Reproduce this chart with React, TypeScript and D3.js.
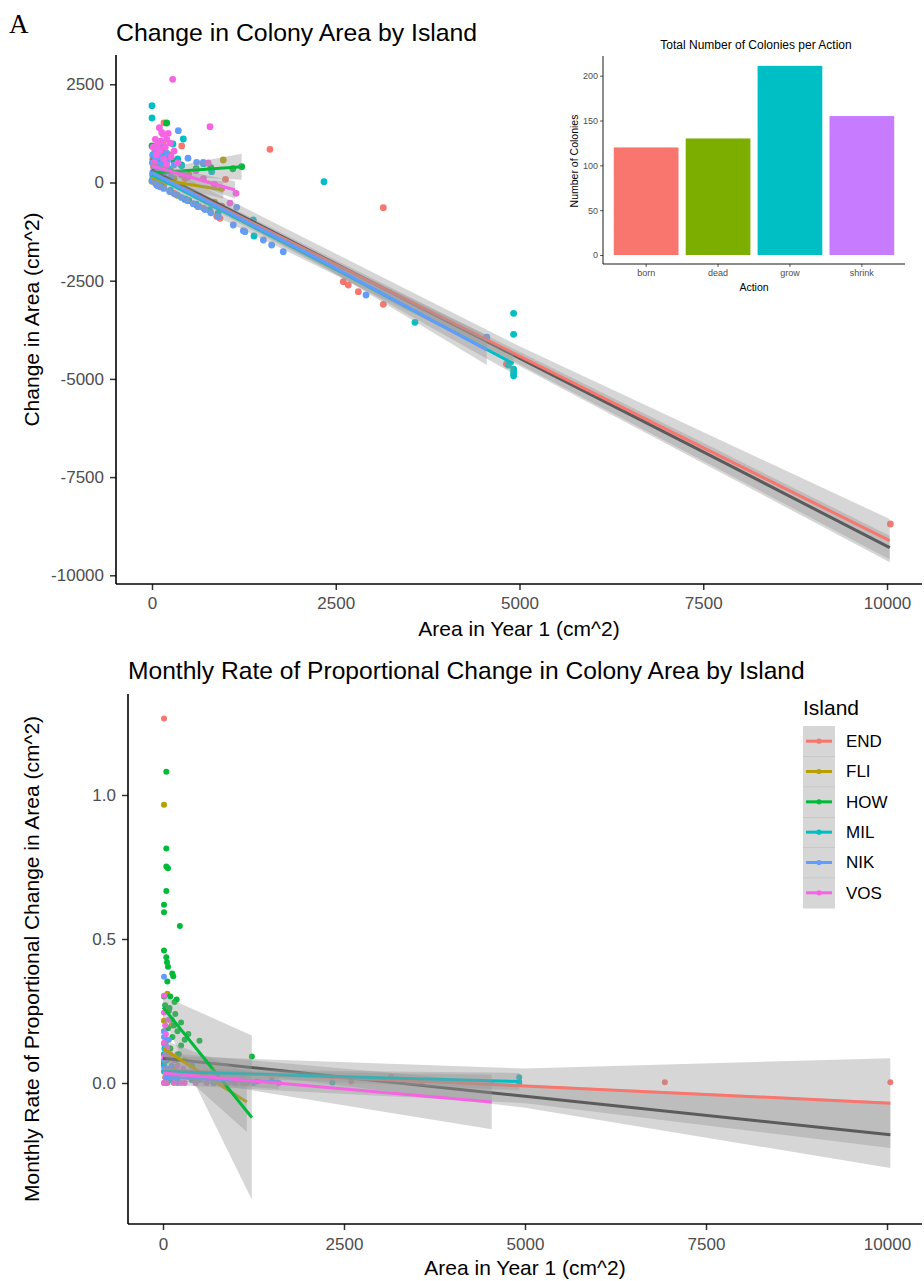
import { useRef, useEffect } from 'react';
import * as d3 from 'd3';

type Pt = [number, number];
// x, fitted value, half width of the confidence band
type Fit = [number, number, number][];

const FONT = '"Liberation Sans", Arial, sans-serif';

const ISLANDS = ['END', 'FLI', 'HOW', 'MIL', 'NIK', 'VOS'];
const ISLAND_COLORS = ['#F8766D', '#B79F00', '#00BA38', '#00BFC4', '#619CFF', '#F564E3'];

const AREA_TICKS = [0, 2500, 5000, 7500, 10000];
const CHANGE_TICKS = [2500, 0, -2500, -5000, -7500, -10000];
const RATE_TICKS = [0, 0.5, 1.0];

// ---- panel A: change in area vs area in year 1
const changeEND: Pt[] = [
  [20, 400], [50, 650], [80, 300], [120, 200], [150, 1000], [163, 1520], [404, 930], [1605, 845],
  [3147, -641], [30, 150], [200, 500], [450, 100], [60, -60], [300, -280], [700, -650], [880, -860],
  [925, -912], [950, -600], [1000, 80], [2603, -2525], [2671, -2609], [2807, -2780], [3147, -3101],
  [4822, -4620], [10046, -8694], [10, 600], [40, 800], [100, 450], [180, 350], [250, 700],
];
const changeFLI: Pt[] = [
  [0, 30], [20, 50], [40, 0], [80, -50], [150, -120], [250, -230], [350, -330], [450, -430],
  [600, -560], [626, -616], [30, 200], [100, 150], [200, 300], [300, 100], [60, 350], [500, 200],
  [850, -500], [970, 573], [10, 100], [50, 120], [120, 50], [180, 0], [70, 500],
];
const changeHOW: Pt[] = [
  [200, 1515], [0, 930], [10, 200], [30, 400], [50, 700], [80, 250], [100, 600], [120, -100],
  [150, 800], [250, 300], [300, 550], [400, 450], [500, -460], [600, 350], [800, 380], [1100, 350],
  [1220, 402], [20, 550], [60, 450], [140, 350], [200, 650], [90, 850],
];
const changeMIL: Pt[] = [
  [0, 1955], [0, 1642], [50, 300], [100, 500], [150, 250], [200, 700], [250, -200], [285, 980],
  [350, 600], [404, 428], [426, 1107], [450, -420], [600, -560], [700, 480], [782, -700], [812, 275],
  [900, -780], [1379, -955], [1388, -1362], [2340, 20], [3578, -3560], [4850, -4650], [4920, -3330],
  [4920, -3866], [4920, -4750], [4920, -4800], [4920, -4860], [4920, -4920],
  [10, 700], [30, 900], [80, 600], [120, 750], [170, 450], [220, 350],
];
const changeNIK: Pt[] = [
  [0, 50], [10, 250], [20, 100], [30, 400], [40, 0], [50, 600], [60, 150], [70, -70], [80, -80],
  [90, 450], [100, 300], [110, -110], [132, 911], [150, 500], [160, -150], [200, 750], [240, -230],
  [300, 450], [320, -300], [358, 1319], [400, -380], [420, 200], [480, -460], [490, 620], [560, -540],
  [608, 514], [640, -610], [698, 514], [720, -690], [800, -770], [898, -870], [1106, -1082],
  [1152, -632], [1243, -1226], [1264, -1253], [1515, -1464], [1628, -1591], [1786, -1761],
  [2912, -2864], [4555, -3940], [5, 500], [15, 700], [25, 300], [45, 200], [65, 800], [85, 100],
  [105, 650], [125, 400], [175, 250], [210, 550], [260, 150],
];
const changeVOS: Pt[] = [
  [281, 2627], [100, 1395], [132, 1275], [150, 1230], [789, 1420], [180, 900], [120, 1050],
  [200, 1100], [220, 1250], [250, 1000], [90, 850], [60, 700], [300, 800], [30, 500], [350, 500],
  [400, 200], [500, 150], [600, 300], [700, 100], [764, 496], [850, -50], [950, -150], [1061, -523],
  [1143, -275], [15, 900], [45, 1100], [75, 1000], [110, 800], [160, 600], [200, 450], [260, 650],
];

const changeFitAll: Fit = [[0, 318, 50], [2500, -2073, 100], [5000, -4470, 160], [7500, -6857, 230], [10037, -9296, 300]];
const changeFitEND: Fit = [[0, 246, 300], [5000, -4420, 250], [10037, -9118, 550]];
const changeFitFLI: Fit = [[0, 107, 60], [970, -191, 220]];
const changeFitHOW: Fit = [[0, 240, 70], [1220, 402, 330]];
const changeFitMIL: Fit = [[0, 200, 60], [2500, -2210, 120], [4920, -4612, 260]];
const changeFitNIK: Fit = [[0, 250, 50], [2300, -1980, 120], [4555, -4264, 380]];
const changeFitVOS: Fit = [[0, 420, 60], [1130, -191, 220]];

// ---- panel B: monthly rate of proportional change
const rateEND: Pt[] = [
  [14, 1.266], [14, 0.135], [30, 0.02], [50, 0.1], [60, 0.0], [100, 0.05], [200, 0.02], [400, 0.01],
  [700, 0.015], [1500, 0.01], [2600, 0.005], [3150, 0.022], [6932, 0.003], [10046, 0.003],
  [20, 0.07], [80, 0.04], [150, 0.03],
];
const rateFLI: Pt[] = [
  [14, 0.966], [14, 0.216], [14, 0.18], [40, 0.25], [60, 0.31], [100, 0.12], [150, 0.05], [200, 0.1],
  [300, 0.08], [500, 0.03], [800, 0.01], [970, 0.005], [1158, 0.0], [30, 0.14], [80, 0.09], [120, 0.2],
];
const rateHOW: Pt[] = [
  [46, 1.081], [46, 0.814], [46, 0.752], [69, 0.746], [46, 0.667], [14, 0.619], [14, 0.593],
  [233, 0.545], [14, 0.46], [46, 0.437], [55, 0.419], [69, 0.404], [128, 0.38], [142, 0.371],
  [60, 0.352], [14, 0.3], [100, 0.3], [188, 0.29], [160, 0.281], [30, 0.27], [90, 0.26], [80, 0.25],
  [170, 0.24], [120, 0.22], [250, 0.21], [150, 0.2], [70, 0.19], [200, 0.18], [350, 0.17],
  [130, 0.16], [300, 0.15], [60, 0.15], [250, 0.13], [100, 0.12], [220, 0.1], [14, 0.1],
  [180, 0.08], [14, 0.07], [400, 0.06], [504, 0.147], [1227, 0.092],
];
const rateMIL: Pt[] = [
  [14, 0.06], [14, 0.04], [30, 0.0], [50, 0.02], [100, 0.01], [200, 0.005], [400, 0.01], [700, 0.0],
  [1000, 0.005], [1300, 0.005], [2340, 0.002], [3578, 0.0], [4920, 0.0], [4920, 0.005], [4920, 0.02],
  [20, 0.12], [60, 0.08], [120, 0.03],
];
const rateNIK: Pt[] = [
  [14, 0.369], [14, 0.18], [14, 0.16], [14, 0.08], [14, 0.0], [30, 0.1], [60, 0.05], [80, 0.15],
  [100, 0.02], [200, 0.0], [358, 0.03], [500, 0.01], [700, 0.0], [900, 0.0], [1100, 0.0],
  [1250, 0.0], [1600, 0.0], [20, 0.05], [40, 0.13], [120, 0.06], [170, 0.02],
];
const rateVOS: Pt[] = [
  [14, 0.303], [14, 0.245], [14, 0.14], [14, 0.0], [30, 0.2], [50, 0.0], [60, 0.12], [100, 0.1],
  [100, 0.04], [150, 0.08], [150, 0.0], [200, 0.06], [281, 0.05], [300, 0.0], [450, 0.0], [600, 0.0],
  [780, 0.01], [1000, 0.0], [1143, 0.0], [4540, 0.0], [20, 0.09], [40, 0.17], [80, 0.22],
  [120, 0.03], [180, 0.02], [250, 0.0],
];

const rateFitAll: Fit = [[0, 0.086, 0.02], [5000, -0.046, 0.04], [10046, -0.18, 0.115]];
const rateFitEND: Fit = [[0, 0.045, 0.05], [5000, -0.01, 0.06], [10046, -0.07, 0.156]];
const rateFitFLI: Fit = [[0, 0.12, 0.03], [1158, -0.066, 0.104]];
const rateFitHOW: Fit = [[0, 0.263, 0.04], [1227, -0.12, 0.285]];
const rateFitMIL: Fit = [[0, 0.04, 0.012], [2500, 0.022, 0.02], [4920, 0.005, 0.03]];
const rateFitNIK: Fit = [[0, 0.02, 0.01], [1600, 0.004, 0.025]];
const rateFitVOS: Fit = [[0, 0.035, 0.01], [4540, -0.066, 0.095]];

// ---- inset bar chart
const ACTIONS = ['born', 'dead', 'grow', 'shrink'];
const ACTION_COUNTS = [120, 130, 211, 155];
const ACTION_COLORS = ['#F8766D', '#7CAE00', '#00BFC4', '#C77CFF'];
const COUNT_TICKS = [0, 50, 100, 150, 200];

type Sel = d3.Selection<SVGGElement, unknown, null, undefined>;

interface PanelOpts {
  x: d3.ScaleLinear<number, number>;
  y: d3.ScaleLinear<number, number>;
  left: number; right: number; top: number; bottom: number;
  yTicks: number[];
  yFormat: (d: number) => string;
  points: Pt[][];
  fits: Fit[];
  fitAll: Fit;
  r: number;
  title: string; titleY: number; titleSize: number;
  xTitle: string; xTitleY: number;
  yTitle: string;
  xPad: number;
}

function drawPanel(g: Sel, o: PanelOpts) {
  // points
  o.points.forEach((pts, i) => {
    g.append('g').selectAll('circle').data(pts).join('circle')
      .attr('cx', d => o.x(d[0]))
      .attr('cy', d => o.y(d[1]))
      .attr('r', o.r)
      .attr('fill', ISLAND_COLORS[i]);
  });

  // smooths: band then line
  const band = d3.area<[number, number, number]>()
    .x(d => o.x(d[0]))
    .y0(d => o.y(d[1] - d[2]))
    .y1(d => o.y(d[1] + d[2]));
  const line = d3.line<[number, number, number]>()
    .x(d => o.x(d[0]))
    .y(d => o.y(d[1]));
  const smooth = (fit: Fit, color: string) => {
    g.append('path').datum(fit).attr('d', band).attr('fill', '#999999').attr('fill-opacity', 0.4);
    g.append('path').datum(fit).attr('d', line)
      .attr('fill', 'none').attr('stroke', color).attr('stroke-width', 3);
  };
  smooth(o.fitAll, '#333333');
  o.fits.forEach((f, i) => smooth(f, ISLAND_COLORS[i]));

  // axes
  const yAxis = d3.axisLeft(o.y).tickValues(o.yTicks).tickSize(6).tickPadding(6)
    .tickFormat(d => o.yFormat(d as number));
  const ya = g.append('g').attr('transform', `translate(${o.left},0)`).call(yAxis);
  ya.select('.domain').remove();

  const xAxis = d3.axisBottom(o.x).tickValues(AREA_TICKS).tickSize(6).tickPadding(o.xPad)
    .tickFormat(d => String(d));
  const xa = g.append('g').attr('transform', `translate(0,${o.bottom})`).call(xAxis);
  xa.select('.domain').remove();

  [ya, xa].forEach(a => {
    a.selectAll('line').attr('stroke', '#333').attr('stroke-width', 1.5);
    a.selectAll('text').attr('fill', '#4d4d4d').attr('font-size', 17).attr('font-family', FONT);
  });

  g.append('line').attr('x1', o.left).attr('x2', o.left).attr('y1', o.top).attr('y2', o.bottom)
    .attr('stroke', '#000').attr('stroke-width', 1.6);
  g.append('line').attr('x1', o.left).attr('x2', o.right).attr('y1', o.bottom).attr('y2', o.bottom)
    .attr('stroke', '#000').attr('stroke-width', 1.6);

  // titles
  g.append('text').attr('x', o.left).attr('y', o.titleY)
    .attr('font-family', FONT).attr('font-size', o.titleSize).attr('fill', '#000').text(o.title);
  g.append('text').attr('x', (o.left + o.right) / 2).attr('y', o.xTitleY).attr('text-anchor', 'middle')
    .attr('font-family', FONT).attr('font-size', 21).attr('fill', '#000').text(o.xTitle);
  g.append('text').attr('transform', `translate(39,${(o.top + o.bottom) / 2}) rotate(-90)`)
    .attr('text-anchor', 'middle')
    .attr('font-family', FONT).attr('font-size', 21).attr('fill', '#000').text(o.yTitle);
}

export default function App() {
  const svgRef = useRef<SVGSVGElement>(null);

  useEffect(() => {
    if (!svgRef.current) return;
    const svg = d3.select(svgRef.current);
    svg.selectAll('*').remove();

    svg.append('text').attr('x', 9).attr('y', 33)
      .attr('font-family', '"Liberation Serif", "Times New Roman", serif')
      .attr('font-size', 27).attr('fill', '#000').text('A');

    // Panel A
    const xA = d3.scaleLinear().domain([0, 10000]).range([152, 887]);
    const yA = d3.scaleLinear().domain([0, 2500]).range([182.5, 84.3]);
    drawPanel(svg.append('g') as unknown as Sel, {
      x: xA, y: yA, left: 116, right: 922, top: 55, bottom: 584,
      yTicks: CHANGE_TICKS, yFormat: d => String(d),
      points: [changeEND, changeFLI, changeHOW, changeMIL, changeNIK, changeVOS],
      fits: [changeFitEND, changeFitFLI, changeFitHOW, changeFitMIL, changeFitNIK, changeFitVOS],
      fitAll: changeFitAll, r: 3.4,
      title: 'Change in Colony Area by Island', titleY: 41, titleSize: 24.8,
      xTitle: 'Area in Year 1 (cm^2)', xTitleY: 636,
      yTitle: 'Change in Area (cm^2)', xPad: 7,
    });

    // Inset bar chart
    const inset = svg.append('g');
    inset.append('rect').attr('x', 560).attr('y', 30).attr('width', 364).attr('height', 268).attr('fill', '#fff');
    const bx = d3.scaleBand<string>().domain(ACTIONS).range([603, 905]).paddingInner(0.1).paddingOuter(0.15);
    const by = d3.scaleLinear().domain([0, 200]).range([255, 75.7]);
    inset.selectAll('rect.bar').data(ACTIONS).join('rect')
      .attr('class', 'bar')
      .attr('x', d => bx(d)!)
      .attr('width', bx.bandwidth())
      .attr('y', (_, i) => by(ACTION_COUNTS[i]))
      .attr('height', (_, i) => by(0) - by(ACTION_COUNTS[i]))
      .attr('fill', (_, i) => ACTION_COLORS[i]);
    const iya = inset.append('g').attr('transform', 'translate(603,0)')
      .call(d3.axisLeft(by).tickValues(COUNT_TICKS).tickSize(3).tickPadding(2).tickFormat(d => String(d)));
    iya.select('.domain').remove();
    const ixa = inset.append('g').attr('transform', 'translate(0,264)')
      .call(d3.axisBottom(bx).tickSize(3).tickPadding(3));
    ixa.select('.domain').remove();
    [iya, ixa].forEach(a => {
      a.selectAll('line').attr('stroke', '#333').attr('stroke-width', 0.8);
      a.selectAll('text').attr('fill', '#4d4d4d').attr('font-size', 9).attr('font-family', FONT);
    });
    inset.append('line').attr('x1', 603).attr('x2', 603).attr('y1', 56).attr('y2', 264)
      .attr('stroke', '#000').attr('stroke-width', 0.9);
    inset.append('line').attr('x1', 603).attr('x2', 905).attr('y1', 264).attr('y2', 264)
      .attr('stroke', '#000').attr('stroke-width', 0.9);
    inset.append('text').attr('x', 756).attr('y', 49).attr('text-anchor', 'middle')
      .attr('font-family', FONT).attr('font-size', 12).attr('fill', '#000')
      .text('Total Number of Colonies per Action');
    inset.append('text').attr('x', 754).attr('y', 291).attr('text-anchor', 'middle')
      .attr('font-family', FONT).attr('font-size', 10.5).attr('fill', '#000').text('Action');
    inset.append('text').attr('transform', 'translate(578,161) rotate(-90)').attr('text-anchor', 'middle')
      .attr('font-family', FONT).attr('font-size', 10.5).attr('fill', '#000').text('Number of Colonies');

    // Panel B
    const xB = d3.scaleLinear().domain([0, 10000]).range([163, 887]);
    const yB = d3.scaleLinear().domain([0, 1]).range([1083, 795]);
    drawPanel(svg.append('g') as unknown as Sel, {
      x: xB, y: yB, left: 128, right: 922, top: 694, bottom: 1224,
      yTicks: RATE_TICKS, yFormat: d => d.toFixed(1),
      points: [rateEND, rateFLI, rateHOW, rateMIL, rateNIK, rateVOS],
      fits: [rateFitEND, rateFitFLI, rateFitHOW, rateFitMIL, rateFitNIK, rateFitVOS],
      fitAll: rateFitAll, r: 3,
      title: 'Monthly Rate of Proportional Change in Colony Area by Island', titleY: 679, titleSize: 24.6,
      xTitle: 'Area in Year 1 (cm^2)', xTitleY: 1275,
      yTitle: 'Monthly Rate of Proportional Change in Area (cm^2)', xPad: 8,
    });

    // Legend
    const legend = svg.append('g');
    legend.append('text').attr('x', 803).attr('y', 715)
      .attr('font-family', FONT).attr('font-size', 21).attr('fill', '#000').text('Island');
    const ky = d3.scaleBand<string>().domain(ISLANDS).range([726, 908]);
    const key = legend.selectAll('g.key').data(ISLANDS).join('g')
      .attr('class', 'key')
      .attr('transform', d => `translate(0,${ky(d)})`);
    key.append('rect').attr('x', 803).attr('width', 32).attr('height', ky.bandwidth() + 0.5)
      .attr('fill', '#999999').attr('fill-opacity', 0.4);
    key.append('line').attr('x1', 806).attr('x2', 832)
      .attr('y1', ky.bandwidth() / 2).attr('y2', ky.bandwidth() / 2)
      .attr('stroke', (_, i) => ISLAND_COLORS[i]).attr('stroke-width', 3);
    key.append('circle').attr('cx', 819).attr('cy', ky.bandwidth() / 2).attr('r', 2.6)
      .attr('fill', (_, i) => ISLAND_COLORS[i]);
    key.append('text').attr('x', 846).attr('y', ky.bandwidth() / 2).attr('dy', '0.35em')
      .attr('font-family', FONT).attr('font-size', 17).attr('fill', '#000').text(d => d);
  }, []);

  return (
    <svg ref={svgRef} width={924} height={1281}
      style={{ position: 'absolute', left: 0, top: 0, background: '#fff' }} />
  );
}
